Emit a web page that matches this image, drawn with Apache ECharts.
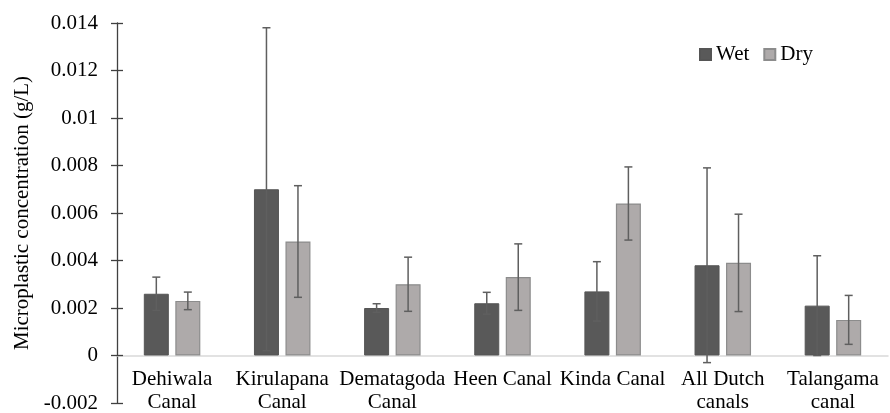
<!DOCTYPE html>
<html>
<head>
<meta charset="utf-8">
<script src="https://cdn.jsdelivr.net/npm/echarts@6/dist/echarts.min.js"></script>
<style>
  html, body { margin: 0; padding: 0; background: #fff; }
  #chart { width: 890px; height: 413px; }
</style>
</head>
<body>
<div id="chart"></div>
<script>
// Sampling sites along the canals
var categories = ['Dehiwala\nCanal', 'Kirulapana\nCanal', 'Dematagoda\nCanal', 'Heen Canal', 'Kinda Canal', 'All Dutch\ncanals', 'Talangama\ncanal'];

// Mean microplastic concentration (g/L) and standard deviation, wet season
var wetMean = [0.0026, 0.0070, 0.0020, 0.0022, 0.0027, 0.0038, 0.0021];
var wetSd   = [0.0007, 0.0068, 0.00018, 0.00046, 0.00125, 0.0041, 0.0021];

// Mean microplastic concentration (g/L) and standard deviation, dry season
var drySeasonMean = [0.0023, 0.0048, 0.0030, 0.0033, 0.0064, 0.0039, 0.0015];
var drySd         = [0.00037, 0.00235, 0.00114, 0.0014, 0.00154, 0.00205, 0.00103];

// Value axis range
var yMin = -0.002, yMax = 0.014, yStep = 0.002;

var FONT = 'Liberation Serif';
var FONT_SIZE = 21;
var WET_COLOR = '#595959';
var DRY_COLOR = '#aeaaaa';
var BAR_W = 25;
var HALF_SPACING = 15.75; // distance from category centre to each bar centre

function errorSeries(name, means, sds, shift) {
  return {
    name: name + ' SD',
    type: 'custom',
    z: 5,
    silent: true,
    data: means.map(function (m, i) { return [i, m, sds[i]]; }),
    renderItem: function (params, api) {
      var i = api.value(0), m = api.value(1), sd = api.value(2);
      var hi = api.coord([i, m + sd]);
      var lo = api.coord([i, m - sd]);
      var x = hi[0] + shift;
      var cap = 4;
      var style = { stroke: '#5f5f5f', lineWidth: 1.5 };
      return {
        type: 'group',
        children: [
          { type: 'line', shape: { x1: x, y1: hi[1], x2: x, y2: lo[1] }, style: style },
          { type: 'line', shape: { x1: x - cap, y1: hi[1], x2: x + cap, y2: hi[1] }, style: style },
          { type: 'line', shape: { x1: x - cap, y1: lo[1], x2: x + cap, y2: lo[1] }, style: style }
        ]
      };
    }
  };
}

// Category names set just below the zero line, one per site
var siteLabels = {
  name: 'site names',
  type: 'custom',
  silent: true,
  z: 6,
  data: categories.map(function (c, i) { return [i, 0]; }),
  renderItem: function (params, api) {
    var p = api.coord([api.value(0), api.value(1)]);
    return {
      type: 'text',
      x: p[0],
      y: p[1] + 12,
      style: {
        text: categories[params.dataIndex],
        fill: '#000',
        font: FONT_SIZE + 'px "' + FONT + '"',
        align: 'center',
        verticalAlign: 'top',
        lineHeight: 23.5
      }
    };
  }
};

var chart = echarts.init(document.getElementById('chart'), null, { renderer: 'canvas' });

chart.setOption({
  animation: false,
  backgroundColor: '#ffffff',
  textStyle: { fontFamily: FONT },
  grid: { left: 117, right: 2, top: 23, bottom: 10, containLabel: false, outerBoundsMode: 'none' },
  legend: {
    left: 699,
    top: 44,
    padding: 0,
    itemWidth: 11,
    itemHeight: 11,
    itemGap: 14,
    icon: 'rect',
    data: ['Wet', 'Dry'],
    textStyle: { fontFamily: FONT, fontSize: FONT_SIZE, color: '#000' }
  },
  xAxis: {
    type: 'category',
    data: categories,
    axisLine: { onZero: true, lineStyle: { color: '#d9d9d9', width: 1.5 } },
    axisTick: { show: false },
    axisLabel: { show: false },
    splitLine: { show: false }
  },
  yAxis: [{
    type: 'value',
    min: yMin,
    max: yMax,
    interval: yStep,
    name: 'Microplastic concentration (g/L)',
    nameLocation: 'middle',
    nameGap: 79,
    nameTextStyle: { fontFamily: FONT, fontSize: FONT_SIZE, color: '#000' },
    axisLine: { show: true, lineStyle: { color: '#404040', width: 1.3 } },
    axisTick: { show: true, inside: false, length: 6, lineStyle: { color: '#404040', width: 1.3 } },
    axisLabel: {
      margin: 19,
      fontFamily: FONT,
      fontSize: FONT_SIZE,
      color: '#000',
      formatter: function (v) { return String(parseFloat(v.toFixed(3))); }
    },
    splitLine: { show: false }
  }, {
    // inner half of the crossing tick marks
    type: 'value',
    min: yMin,
    max: yMax,
    interval: yStep,
    position: 'left',
    axisLine: { show: false },
    axisTick: { show: true, inside: true, length: 6, lineStyle: { color: '#404040', width: 1.3 } },
    axisLabel: { show: false },
    splitLine: { show: false }
  }],
  series: [
    {
      name: 'Wet',
      type: 'bar',
      data: wetMean,
      barWidth: BAR_W,
      barGap: '26%',
      itemStyle: { color: WET_COLOR, borderColor: '#555555', borderWidth: 1 }
    },
    {
      name: 'Dry',
      type: 'bar',
      data: drySeasonMean,
      barWidth: BAR_W,
      barGap: '26%',
      itemStyle: { color: DRY_COLOR, borderColor: '#8c8c8c', borderWidth: 1.2 }
    },
    errorSeries('Wet', wetMean, wetSd, -HALF_SPACING),
    errorSeries('Dry', drySeasonMean, drySd, HALF_SPACING),
    siteLabels
  ]
});
</script>
</body>
</html>
